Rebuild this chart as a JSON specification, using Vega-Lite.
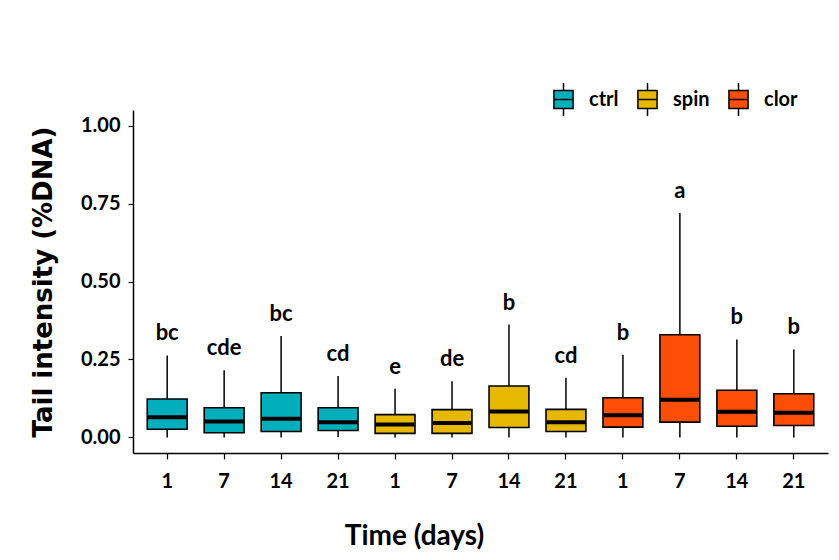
{
  "$schema": "https://vega.github.io/schema/vega-lite/v6.json",
  "width": 695,
  "height": 343,
  "autosize": {"type": "none"},
  "padding": {"left": 133, "top": 110, "right": 11, "bottom": 107},
  "background": "white",
  "config": {
    "view": {"stroke": null},
    "font": "Lato",
    "axis": {
      "grid": false,
      "domainColor": "black",
      "domainWidth": 1.5,
      "tickColor": "black",
      "tickWidth": 1.2,
      "tickSize": 5,
      "labelFont": "Lato",
      "labelFontWeight": "bold",
      "labelFontSize": 20,
      "labelColor": "black",
      "titleColor": "black",
      "titleFontWeight": "bold"
    },
    "legend": {
      "labelFont": "Lato",
      "labelFontWeight": "bold",
      "labelFontSize": 20,
      "labelColor": "black"
    }
  },
  "data": {
    "values": [
      {"id": "ctrl 1", "grp": "ctrl", "day": "1", "lower": 0, "q1": 0.026, "median": 0.065, "q3": 0.123, "upper": 0.263, "letter": "bc"},
      {"id": "ctrl 7", "grp": "ctrl", "day": "7", "lower": 0, "q1": 0.015, "median": 0.051, "q3": 0.095, "upper": 0.215, "letter": "cde"},
      {"id": "ctrl 14", "grp": "ctrl", "day": "14", "lower": 0, "q1": 0.019, "median": 0.060, "q3": 0.143, "upper": 0.325, "letter": "bc"},
      {"id": "ctrl 21", "grp": "ctrl", "day": "21", "lower": 0.001, "q1": 0.022, "median": 0.049, "q3": 0.095, "upper": 0.197, "letter": "cd"},
      {"id": "spin 1", "grp": "spin", "day": "1", "lower": 0, "q1": 0.013, "median": 0.041, "q3": 0.073, "upper": 0.156, "letter": "e"},
      {"id": "spin 7", "grp": "spin", "day": "7", "lower": 0, "q1": 0.013, "median": 0.046, "q3": 0.089, "upper": 0.180, "letter": "de"},
      {"id": "spin 14", "grp": "spin", "day": "14", "lower": 0, "q1": 0.032, "median": 0.083, "q3": 0.165, "upper": 0.362, "letter": "b"},
      {"id": "spin 21", "grp": "spin", "day": "21", "lower": 0, "q1": 0.019, "median": 0.049, "q3": 0.090, "upper": 0.191, "letter": "cd"},
      {"id": "clor 1", "grp": "clor", "day": "1", "lower": 0, "q1": 0.033, "median": 0.071, "q3": 0.127, "upper": 0.265, "letter": "b"},
      {"id": "clor 7", "grp": "clor", "day": "7", "lower": 0, "q1": 0.049, "median": 0.121, "q3": 0.329, "upper": 0.720, "letter": "a"},
      {"id": "clor 14", "grp": "clor", "day": "14", "lower": 0, "q1": 0.036, "median": 0.082, "q3": 0.151, "upper": 0.314, "letter": "b"},
      {"id": "clor 21", "grp": "clor", "day": "21", "lower": 0, "q1": 0.038, "median": 0.079, "q3": 0.140, "upper": 0.282, "letter": "b"}
    ]
  },
  "encoding": {
    "x": {
      "field": "id",
      "type": "nominal",
      "sort": null,
      "scale": {"type": "band", "paddingInner": 0.3, "paddingOuter": 0.25},
      "axis": {
        "title": "Time (days)",
        "titleFont": "Lato",
        "titleFontSize": 28,
        "titlePadding": 31,
        "titleX": 281,
        "titleAlign": "center",
        "labelAngle": 0,
        "labelPadding": 12,
        "tickSize": 6,
        "labelExpr": "split(datum.value, ' ')[1]"
      }
    }
  },
  "layer": [
    {
      "mark": {"type": "rule", "color": "black", "strokeWidth": 1.5},
      "encoding": {
        "y": {
          "field": "lower",
          "type": "quantitative",
          "scale": {"domain": [-0.05, 1.05], "nice": false, "zero": false},
          "axis": {
            "title": "Tail intensity (%DNA)",
            "titleFont": "DejaVu Sans",
            "titleFontSize": 26,
            "titlePadding": 24,
            "values": [0, 0.25, 0.5, 0.75, 1],
            "format": ".2f",
            "labelPadding": 8
          }
        },
        "y2": {"field": "upper"}
      }
    },
    {
      "mark": {"type": "bar", "stroke": "black", "strokeWidth": 1.6, "opacity": 1},
      "encoding": {
        "y": {"field": "q1", "type": "quantitative"},
        "y2": {"field": "q3"},
        "color": {
          "field": "grp",
          "type": "nominal",
          "scale": {"domain": ["ctrl", "spin", "clor"], "range": ["#00AFBB", "#E7B800", "#FC4E07"]},
          "legend": {
            "title": null,
            "orient": "none",
            "direction": "horizontal",
            "legendX": 413,
            "legendY": -28,
            "symbolType": "M0,-1V-0.55M-0.58,-0.55H0.58V0.55H-0.58ZM-0.58,0H0.58M0,0.55V1",
            "symbolSize": 1089,
            "symbolStrokeColor": "black",
            "symbolStrokeWidth": 1.5,
            "symbolOpacity": 1,
            "labelOffset": 8,
            "columnPadding": 11
          }
        }
      }
    },
    {
      "mark": {"type": "tick", "color": "black", "thickness": 4, "size": 39, "opacity": 1},
      "encoding": {
        "y": {"field": "median", "type": "quantitative"}
      }
    },
    {
      "mark": {"type": "text", "font": "Lato", "fontWeight": "bold", "fontSize": 22, "color": "black", "dy": -22, "baseline": "middle"},
      "encoding": {
        "y": {"field": "upper", "type": "quantitative"},
        "text": {"field": "letter"}
      }
    }
  ]
}
